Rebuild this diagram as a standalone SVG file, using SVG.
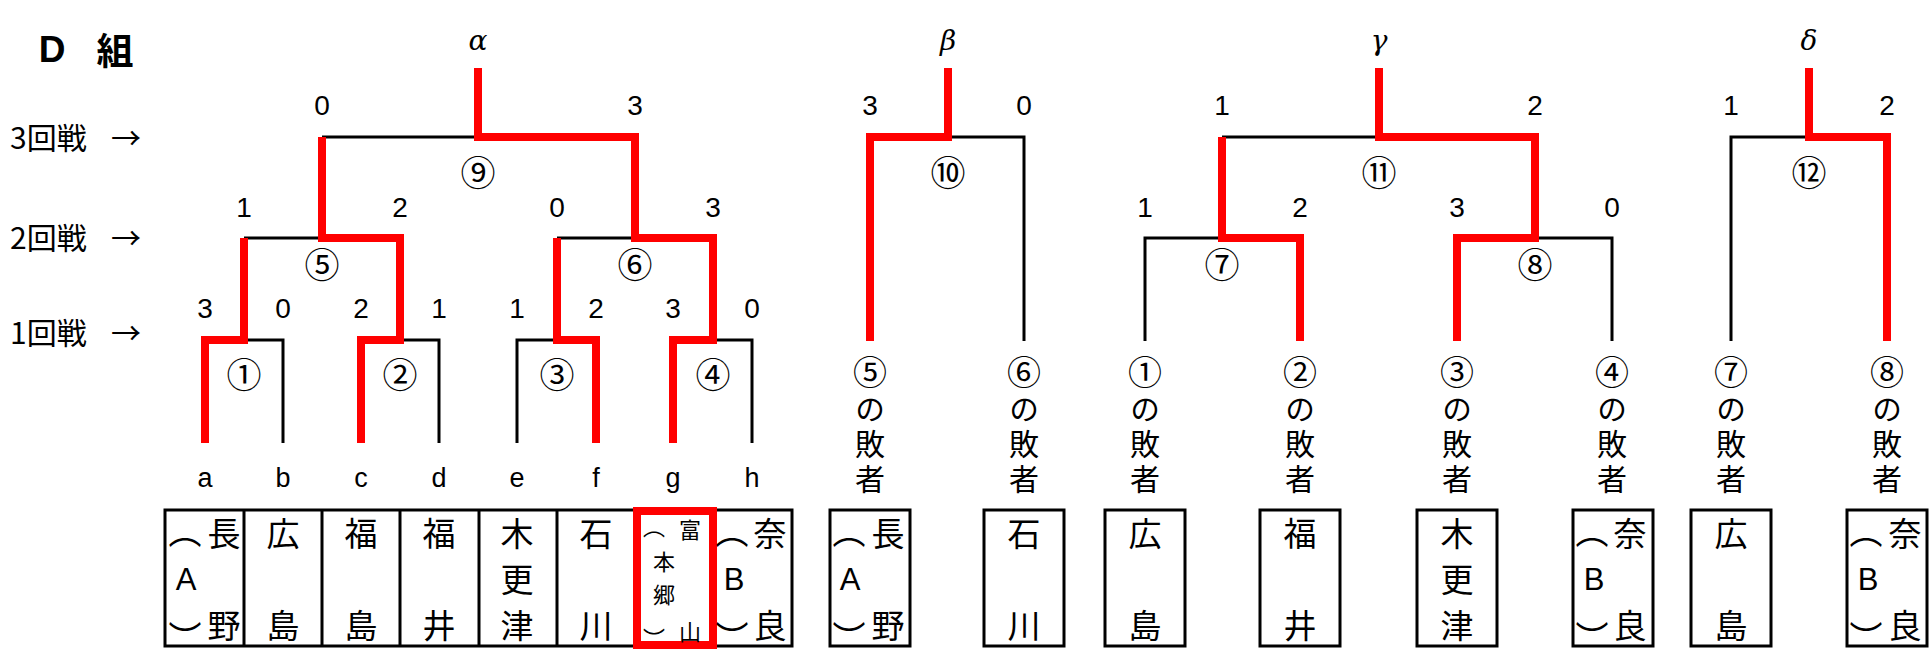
<svg xmlns="http://www.w3.org/2000/svg" width="1930" height="661" viewBox="0 0 1930 661">
<style>
text{font-family:"Liberation Sans","Noto Sans CJK JP",sans-serif;fill:#000;text-anchor:middle;dominant-baseline:central}
.jp{font-family:"Noto Sans CJK JP",sans-serif}
.sc{font-size:28px}
.lt{font-size:27px}
.cn{font-family:"Noto Sans CJK JP",sans-serif;font-size:35px}
.vt{font-family:"Noto Sans CJK JP",sans-serif;font-size:30px;writing-mode:vertical-rl;text-anchor:start;letter-spacing:5px}
.vn{font-size:34px}
.bx{font-family:"Noto Sans CJK JP",sans-serif;font-size:33px}
.la{font-family:"Liberation Sans",sans-serif;font-size:31px}
.sm{font-family:"Noto Sans CJK JP",sans-serif;font-size:22px}
.gr{font-family:"DejaVu Serif",serif;font-style:italic;font-size:28px}
.rd{font-family:"Noto Sans CJK JP",sans-serif;font-size:30px;text-anchor:start}
.k{fill:none;stroke:#000;stroke-width:3}
.r{fill:none;stroke:#f00;stroke-width:8;stroke-linejoin:miter}
</style>
<rect width="1930" height="661" fill="#fff"/>
<g id="title"><text x="52" y="49" style="font-size:37px;font-weight:bold">D</text><text x="115" y="49" class="jp" style="font-size:37px;font-weight:bold">組</text></g>
<g id="rounds">
<text class="rd"><tspan x="10" y="136">3回戦</tspan><tspan x="111" y="136">→</tspan></text>
<text class="rd"><tspan x="10" y="236">2回戦</tspan><tspan x="111" y="236">→</tspan></text>
<text class="rd"><tspan x="10" y="331">1回戦</tspan><tspan x="111" y="331">→</tspan></text>
</g>
<g id="connectors">
<path class="k" d="M244 340H283V443M400 340H439V443M517 443V340H557M713 340H752V443M244 238H322M557 238H635M322 137H478"/>
<path class="r" d="M205 443V340H244V238"/>
<path class="r" d="M361 443V340H400V238H322V137"/>
<path class="r" d="M596 443V340H557V238"/>
<path class="r" d="M673 443V340H713V238H635V137H478V68"/>
<path class="k" d="M948 137H1024V341"/>
<path class="r" d="M870 341V137H948V68"/>
<path class="k" d="M1145 341V238H1222M1535 238H1612V341M1222 137H1379"/>
<path class="r" d="M1300 341V238H1222V137"/>
<path class="r" d="M1457 341V238H1535V137H1379V68"/>
<path class="k" d="M1731 341V137H1809"/>
<path class="r" d="M1887 341V137H1809V68"/>
</g>
<g id="bracket-alpha">
<text x="478" y="40" class="gr">α</text>
<text x="322" y="105" class="sc">0</text><text x="635" y="105" class="sc">3</text>
<text x="478" y="170" class="cn">⑨</text>
<text x="244" y="207" class="sc">1</text><text x="400" y="207" class="sc">2</text><text x="557" y="207" class="sc">0</text><text x="713" y="207" class="sc">3</text>
<text x="322" y="262" class="cn">⑤</text><text x="635" y="262" class="cn">⑥</text>
<text x="205" y="308" class="sc">3</text><text x="283" y="308" class="sc">0</text><text x="361" y="308" class="sc">2</text><text x="439" y="308" class="sc">1</text>
<text x="517" y="308" class="sc">1</text><text x="596" y="308" class="sc">2</text><text x="673" y="308" class="sc">3</text><text x="752" y="308" class="sc">0</text>
<text x="244" y="372" class="cn">①</text><text x="400" y="372" class="cn">②</text><text x="557" y="372" class="cn">③</text><text x="713" y="372" class="cn">④</text>
<text x="205" y="478" class="lt">a</text><text x="283" y="478" class="lt">b</text><text x="361" y="478" class="lt">c</text><text x="439" y="478" class="lt">d</text>
<text x="517" y="478" class="lt">e</text><text x="596" y="478" class="lt">f</text><text x="673" y="478" class="lt">g</text><text x="752" y="478" class="lt">h</text>
</g>
<g id="teams-alpha">
<path class="k" d="M165 510H792V646H165ZM244 510V646M322 510V646M400 510V646M479 510V646M557 510V646M635 510V646M713 510V646"/>
<g id="t-a"><text class="bx"><tspan x="224" y="532">長</tspan><tspan x="185" y="530">︵</tspan><tspan x="186" y="579" class="la">A</tspan><tspan x="185" y="636">︶</tspan><tspan x="224" y="624">野</tspan></text></g>
<g id="t-b"><text class="bx"><tspan x="283" y="532">広</tspan><tspan x="283" y="624">島</tspan></text></g>
<g id="t-c"><text class="bx"><tspan x="361" y="532">福</tspan><tspan x="361" y="624">島</tspan></text></g>
<g id="t-d"><text class="bx"><tspan x="439" y="532">福</tspan><tspan x="439" y="624">井</tspan></text></g>
<g id="t-e"><text class="bx"><tspan x="517" y="532">木</tspan><tspan x="517" y="578">更</tspan><tspan x="517" y="624">津</tspan></text></g>
<g id="t-f"><text class="bx"><tspan x="596" y="532">石</tspan><tspan x="596" y="624">川</tspan></text></g>
<g id="t-g"><rect x="637" y="511" width="76" height="134" class="r"/><text class="sm"><tspan x="654" y="525">︵</tspan><tspan x="690" y="528">富</tspan><tspan x="664" y="560">本</tspan><tspan x="664" y="593">郷</tspan><tspan x="654" y="637">︶</tspan><tspan x="690" y="630">山</tspan></text></g>
<g id="t-h"><text class="bx"><tspan x="732" y="530">︵</tspan><tspan x="770" y="532">奈</tspan><tspan x="734" y="579" class="la">B</tspan><tspan x="732" y="636">︶</tspan><tspan x="770" y="624">良</tspan></text></g>
</g>
<g id="bracket-beta">
<text x="948" y="40" class="gr">β</text>
<text x="870" y="105" class="sc">3</text><text x="1024" y="105" class="sc">0</text>
<text x="948" y="170" class="cn">⑩</text>
<g id="l5"><text x="870" y="355" class="vt"><tspan class="vn">⑤</tspan>の敗者</text></g>
<g id="l6"><text x="1024" y="355" class="vt"><tspan class="vn">⑥</tspan>の敗者</text></g>
<g id="b5"><rect x="830" y="510" width="80" height="136" class="k"/><text class="bx"><tspan x="888" y="532">長</tspan><tspan x="849" y="530">︵</tspan><tspan x="850" y="579" class="la">A</tspan><tspan x="849" y="636">︶</tspan><tspan x="888" y="624">野</tspan></text></g>
<g id="b6"><rect x="984" y="510" width="80" height="136" class="k"/><text class="bx"><tspan x="1024" y="532">石</tspan><tspan x="1024" y="624">川</tspan></text></g>
</g>
<g id="bracket-gamma">
<text x="1379" y="40" class="gr">γ</text>
<text x="1222" y="105" class="sc">1</text><text x="1535" y="105" class="sc">2</text>
<text x="1379" y="170" class="cn">⑪</text>
<text x="1145" y="207" class="sc">1</text><text x="1300" y="207" class="sc">2</text><text x="1457" y="207" class="sc">3</text><text x="1612" y="207" class="sc">0</text>
<text x="1222" y="262" class="cn">⑦</text><text x="1535" y="262" class="cn">⑧</text>
<g id="l1"><text x="1145" y="355" class="vt"><tspan class="vn">①</tspan>の敗者</text></g>
<g id="l2"><text x="1300" y="355" class="vt"><tspan class="vn">②</tspan>の敗者</text></g>
<g id="l3"><text x="1457" y="355" class="vt"><tspan class="vn">③</tspan>の敗者</text></g>
<g id="l4"><text x="1612" y="355" class="vt"><tspan class="vn">④</tspan>の敗者</text></g>
<g id="b1"><rect x="1105" y="510" width="80" height="136" class="k"/><text class="bx"><tspan x="1145" y="532">広</tspan><tspan x="1145" y="624">島</tspan></text></g>
<g id="b2"><rect x="1260" y="510" width="80" height="136" class="k"/><text class="bx"><tspan x="1300" y="532">福</tspan><tspan x="1300" y="624">井</tspan></text></g>
<g id="b3"><rect x="1417" y="510" width="80" height="136" class="k"/><text class="bx"><tspan x="1457" y="532">木</tspan><tspan x="1457" y="578">更</tspan><tspan x="1457" y="624">津</tspan></text></g>
<g id="b4"><rect x="1573" y="510" width="80" height="136" class="k"/><text class="bx"><tspan x="1592" y="530">︵</tspan><tspan x="1630" y="532">奈</tspan><tspan x="1594" y="579" class="la">B</tspan><tspan x="1592" y="636">︶</tspan><tspan x="1630" y="624">良</tspan></text></g>
</g>
<g id="bracket-delta">
<text x="1809" y="40" class="gr">δ</text>
<text x="1731" y="105" class="sc">1</text><text x="1887" y="105" class="sc">2</text>
<text x="1809" y="170" class="cn">⑫</text>
<g id="l7"><text x="1731" y="355" class="vt"><tspan class="vn">⑦</tspan>の敗者</text></g>
<g id="l8"><text x="1887" y="355" class="vt"><tspan class="vn">⑧</tspan>の敗者</text></g>
<g id="b7"><rect x="1691" y="510" width="80" height="136" class="k"/><text class="bx"><tspan x="1731" y="532">広</tspan><tspan x="1731" y="624">島</tspan></text></g>
<g id="b8"><rect x="1847" y="510" width="80" height="136" class="k"/><text class="bx"><tspan x="1866" y="530">︵</tspan><tspan x="1905" y="532">奈</tspan><tspan x="1868" y="579" class="la">B</tspan><tspan x="1866" y="636">︶</tspan><tspan x="1905" y="624">良</tspan></text></g>
</g>
</svg>
